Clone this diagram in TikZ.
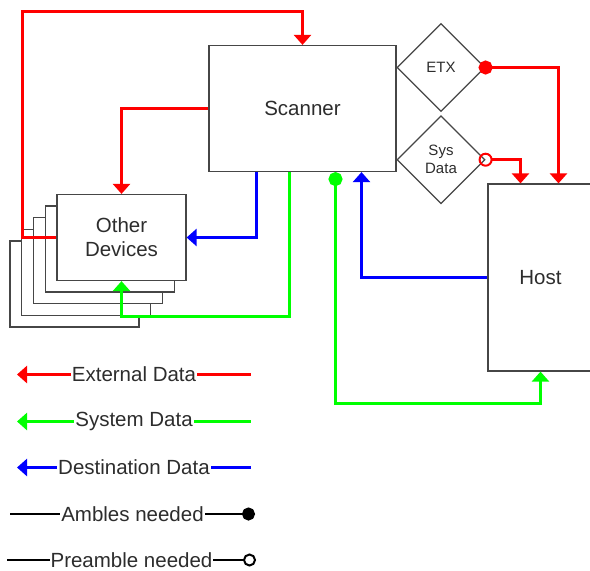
\documentclass[tikz,border=0pt]{standalone}
\usepackage{fontspec}
\setmainfont{Liberation Sans}
\usetikzlibrary{shapes.geometric, arrows.meta, positioning, calc}
\definecolor{extred}{RGB}{255,0,0}
\definecolor{sysgreen}{RGB}{0,255,0}
\definecolor{destblue}{RGB}{0,0,255}
\definecolor{boxgray}{RGB}{70,70,70}
\definecolor{txtgray}{RGB}{45,45,45}
\tikzstyle{block} = [rectangle, draw=boxgray, line width=1.2pt, fill=white, text=txtgray, align=center, font=\fontsize{20.5}{24}\selectfont]
\tikzstyle{devbox} = [block, minimum width=129pt, minimum height=86pt]
\tikzstyle{gate} = [diamond, aspect=1, draw=boxgray, line width=1.2pt, fill=white, minimum size=88pt, inner sep=0pt, text=txtgray, align=center, font=\fontsize{15}{18}\selectfont]
\tikzstyle{legend} = [fill=white, inner xsep=1pt, inner ysep=0pt, text=txtgray, font=\fontsize{20.5}{24}\selectfont]
\tikzstyle{extline} = [draw=extred, line width=3pt]
\tikzstyle{sysline} = [draw=sysgreen, line width=3pt]
\tikzstyle{destline} = [draw=destblue, line width=3pt]
\tikzstyle{blackline} = [draw=black, line width=2.5pt]
\tikzstyle{arrow} = [-{Triangle[width=17pt,length=10pt]}]
\tikzstyle{ambarrow} = [{Circle[length=14pt]}-{Triangle[width=17pt,length=10pt]}, shorten <=-7pt]
\tikzstyle{prearrow} = [{Circle[open,length=14pt,line width=2pt]}-{Triangle[width=17pt,length=10pt]}, shorten <=-7pt]
\tikzstyle{legarrow} = [{Triangle[width=17pt,length=10pt]}-]

\begin{document}
\begin{tikzpicture}[x=1pt, y=-1pt]
        \useasboundingbox (0,0) rectangle (590,571);

        % Other devices (Left, stacked)
        \node (dev4) [devbox] at (74.5,284) {};
        \node (dev3) [devbox] at (86.2,272.3) {};
        \node (dev2) [devbox] at (97.9,260.6) {};
        \node (dev1) [devbox] at (109.6,248.9) {};
        \node (devices) [devbox] at (121.5,237.5) {Other\\Devices};

        % Scanner (Center)
        \node (scanner) [block, minimum width=187pt, minimum height=126pt] at (302.5,108.5) {Scanner};

        % Gates
        \node (etx) [gate] at (441,67.5) {ETX};
        \node (sysdata) [gate, below=3pt of etx] {Sys\\Data};

        % Host (Right)
        \node (host) [block, minimum width=105pt, minimum height=187pt] at (540.5,277.5) {Host};

        % Turn points
        \coordinate (topturn) at (22.5,11.5);
        \coordinate (devturn) at ($(devices.south)+(0,35)$);
        \coordinate (hostturn) at ($(host.south)+(0,32)$);

        % Arrows
        \draw [extline, arrow] (devices.west) -| (topturn) -| (scanner.north);
        \draw [extline, arrow] (scanner.west) -| (devices.north);
        \draw [destline, arrow] ([xshift=-46pt]scanner.south) |- (devices.east);
        \draw [sysline, arrow] ([xshift=-13pt]scanner.south) |- (devturn) -- (devices.south);

        \draw [sysline, ambarrow, shorten <=0pt] ([xshift=33pt]scanner.south) |- (hostturn) -- (host.south);
        \draw [destline, arrow] (host.west) -| ([xshift=59pt]scanner.south);
        \draw [extline, ambarrow] (etx.east) -| ([xshift=18pt]host.north);
        \draw [extline, prearrow] (sysdata.east) -| ([xshift=-20pt]host.north);

        % Legend
        \coordinate (ext1) at (17,374.5);
        \coordinate (ext2) at (251,374.5);
        \coordinate (sys1) at (17,421.5);
        \coordinate (sys2) at (251,421.5);
        \coordinate (dest1) at (17,467.5);
        \coordinate (dest2) at (251,467.5);
        \coordinate (amb1) at (10,514);
        \coordinate (amb2) at (255,514);
        \coordinate (pre1) at (7,560);
        \coordinate (pre2) at (256,560);

        \draw [extline, legarrow] (ext1) -- (ext2) node[legend, midway] {External Data};
        \draw [sysline, legarrow] (sys1) -- (sys2) node[legend, midway] {System Data};
        \draw [destline, legarrow] (dest1) -- (dest2) node[legend, midway] {Destination Data};
        \draw [blackline, -{Circle[length=13pt]}] (amb1) -- (amb2) node[legend, midway] {Ambles needed};
        \draw [blackline, -{Circle[open,length=13pt,line width=2pt]}] (pre1) -- (pre2) node[legend, midway] {Preamble needed};

    \end{tikzpicture}
\end{document}
